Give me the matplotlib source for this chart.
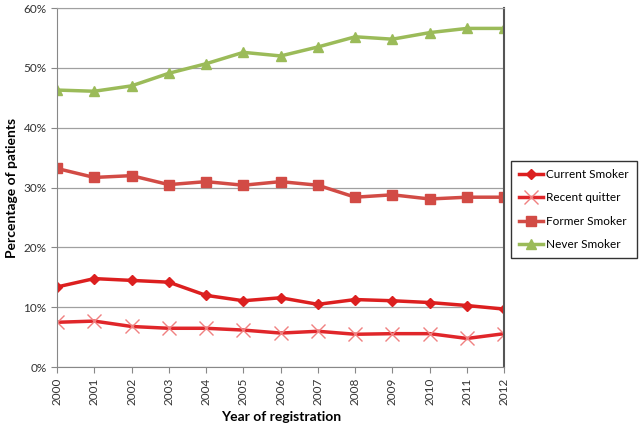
import numpy as np
import matplotlib.pyplot as plt

years = list(range(2000, 2013))
current_smoker = [13.4, 14.8, 14.5, 14.2, 12.0, 11.1, 11.6, 10.5, 11.3, 11.1, 10.8, 10.3, 9.7]
recent_quitter = [7.5, 7.7, 6.8, 6.5, 6.5, 6.2, 5.7, 6.0, 5.5, 5.6, 5.6, 4.8, 5.6]
former_smoker = [33.2, 31.7, 32.0, 30.5, 31.0, 30.4, 31.0, 30.4, 28.4, 28.8, 28.1, 28.4, 28.4]
never_smoker = [46.3, 46.1, 47.0, 49.1, 50.7, 52.6, 52.0, 53.5, 55.2, 54.8, 55.9, 56.6, 56.6]

plt.rcParams['font.family'] = ['Lato', 'DejaVu Sans']

fig = plt.figure(figsize=(6.4, 4.24), dpi=100)
ax = fig.add_axes([0.089, 0.134, 0.699, 0.847])

# gridlines behind
ax.set_axisbelow(True)
ax.yaxis.grid(True, color='#a0a0a0', linewidth=0.9)

ax.plot(years, current_smoker, color='#dc1f1f', linewidth=2.5, marker='D', markersize=5,
        label='Current Smoker')
ax.plot(years, recent_quitter, color='#e0262a', linewidth=2.5, marker='x', markersize=10,
        markeredgecolor='#f08080', markeredgewidth=1.0, label='Recent quitter')
ax.plot(years, former_smoker, color='#d24b45', linewidth=2.5, marker='s', markersize=7,
        label='Former Smoker')
ax.plot(years, never_smoker, color='#9bbb59', linewidth=2.5, marker='^', markersize=7,
        label='Never Smoker')

ax.set_xlim(2000, 2012)
ax.set_ylim(0, 60)
ax.set_xticks(years)
ax.set_xticklabels([str(y) for y in years], rotation=90, fontsize=8.5)
ax.set_yticks(np.arange(0, 61, 10))
ax.set_yticklabels([f'{v}%' for v in range(0, 61, 10)], fontsize=8.5)

for side in ['left', 'bottom']:
    ax.spines[side].set_color('#888888')
ax.spines['top'].set_color('#a0a0a0')
ax.spines['right'].set_color('#555555')
ax.spines['right'].set_linewidth(1.5)
ax.tick_params(axis='both', colors='#888888', labelcolor='#333333', length=4)

ax.set_xlabel('Year of registration', fontsize=10, fontweight='bold')
ax.set_ylabel('Percentage of patients', fontsize=10, fontweight='bold')

leg = ax.legend(loc='upper left', bbox_to_anchor=(1.015, 0.575), frameon=True, fancybox=False,
                fontsize=8.5, handlelength=2.0, labelspacing=1.05, borderpad=0.7,
                handletextpad=0.3, borderaxespad=0)
leg.get_frame().set_edgecolor('#000000')
leg.get_frame().set_linewidth(1.0)

plt.savefig('out.png', dpi=100)
plt.close()
